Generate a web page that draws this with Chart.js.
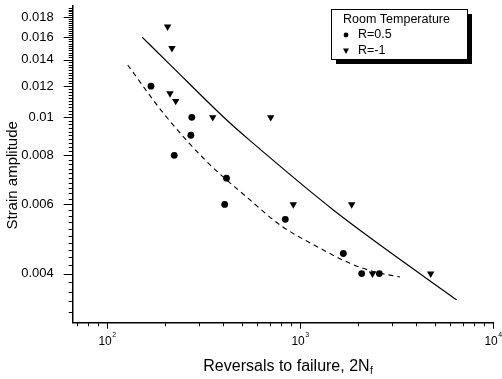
<!DOCTYPE html>
<html>
<head>
<meta charset="utf-8">
<script src="https://cdn.jsdelivr.net/npm/chart.js@4.4.1/dist/chart.umd.min.js"></script>
<style>
  body { margin: 0; background: #fff; }
</style>
</head>
<body>
<canvas id="fatigueChart" width="502" height="379"></canvas>
<script>
// test points, R = 0.5
const r05Reversals = [169, 275, 272, 223, 416, 407, 839, 1677, 2088, 2576];
const r05Strain = [0.012, 0.01, 0.009, 0.008, 0.007, 0.006, 0.0055, 0.0045, 0.004, 0.004];
// test points, R = -1
const rm1Reversals = [206, 217, 212, 227, 353, 705, 923, 1853, 2375, 4755];
const rm1Strain = [0.017, 0.015, 0.0115, 0.011, 0.01, 0.01, 0.006, 0.006, 0.004, 0.004];
// fitted curves
const fitRm1Reversals = [152, 212, 417, 551, 1488, 4622, 6486];
const fitRm1Strain = [0.016, 0.01362, 0.00984, 0.00872, 0.00581, 0.00386, 0.00343];
const fitR05Reversals = [128, 196, 322, 551, 788, 1221, 1816, 2399, 3299];
const fitR05Strain = [0.01359, 0.01024, 0.00779, 0.00616, 0.00532, 0.00469, 0.00425, 0.00405, 0.00392];

// axis ticks
const yMajorValues = [0.004, 0.006, 0.008, 0.01, 0.012, 0.014, 0.016, 0.018];
const yMajorLabels = ['0.004', '0.006', '0.008', '0.01', '0.012', '0.014', '0.016', '0.018'];
const xMajorValues = [100, 1000, 10000];
const xMajorExponents = ['2', '3', '4'];

const FONT = "'Liberation Sans', Arial, sans-serif";

// minor tick positions: every 0.0002 on y, 2..9 per decade on x
const yTickValues = [];
for (let i = 16; i <= 95; i++) yTickValues.push(i / 5000);
const xTickValues = [];
[10, 100, 1000].forEach(d => {
    for (let k = 2; k <= 10; k++) {
        if (k * d >= 66.4 && k * d <= 10000) xTickValues.push(k * d);
    }
});

function toPoints(xs, ys) {
    return xs.map((x, i) => ({ x: x, y: ys[i] }));
}

function isMajor(v, list) {
    return list.some(m => Math.abs(m - v) / m < 1e-6);
}

// tick marks, x tick labels, axis titles and boxed legend
const decorations = {
    id: 'decorations',
    afterDraw(chart) {
        const ctx = chart.ctx;
        const area = chart.chartArea;
        const x = chart.scales.x;
        const y = chart.scales.y;
        ctx.save();
        ctx.strokeStyle = '#000';
        ctx.fillStyle = '#000';
        ctx.lineWidth = 1;

        yTickValues.forEach(v => {
            const py = Math.round(y.getPixelForValue(v)) + 0.5;
            const len = isMajor(v, yMajorValues) ? 9 : 4;
            ctx.beginPath();
            ctx.moveTo(area.left, py);
            ctx.lineTo(area.left - len, py);
            ctx.stroke();
        });
        xTickValues.forEach(v => {
            const px = Math.round(x.getPixelForValue(v)) + 0.5;
            const len = isMajor(v, xMajorValues) ? 6 : 3.5;
            ctx.beginPath();
            ctx.moveTo(px, area.bottom);
            ctx.lineTo(px, area.bottom + len);
            ctx.stroke();
        });

        // x tick labels with superscript exponent
        ctx.textBaseline = 'alphabetic';
        ctx.textAlign = 'left';
        xMajorValues.forEach((v, i) => {
            const px = x.getPixelForValue(v);
            ctx.font = '12px ' + FONT;
            const w1 = ctx.measureText('10').width;
            ctx.font = '7px ' + FONT;
            const w2 = ctx.measureText(xMajorExponents[i]).width;
            const start = px - (w1 + w2) / 2;
            ctx.font = '12px ' + FONT;
            ctx.fillText('10', start, area.bottom + 22.5);
            ctx.font = '7px ' + FONT;
            ctx.fillText(xMajorExponents[i], start + w1 + 0.5, area.bottom + 14.5);
        });

        // x title with subscript
        ctx.font = '16px ' + FONT;
        const main = 'Reversals to failure, 2N';
        const wm = ctx.measureText(main).width;
        ctx.font = '10px ' + FONT;
        const ws = ctx.measureText('f').width;
        const tx = (area.left + area.right) / 2 + 5 - (wm + ws) / 2;
        const ty = area.bottom + 48;
        ctx.font = '16px ' + FONT;
        ctx.fillText(main, tx, ty);
        ctx.font = '10px ' + FONT;
        ctx.fillText('f', tx + wm + 0.5, ty + 3);

        // y title
        ctx.save();
        ctx.translate(12.5, (area.top + area.bottom) / 2 + 11);
        ctx.rotate(-Math.PI / 2);
        ctx.textAlign = 'center';
        ctx.textBaseline = 'middle';
        ctx.font = '15px ' + FONT;
        ctx.fillText('Strain amplitude', 0, 0);
        ctx.restore();

        // legend box with drop shadow
        const bx = area.right - 162;
        const by = area.top + 3;
        const bw = 136;
        const bh = 50;
        ctx.fillStyle = '#000';
        ctx.fillRect(bx + 5, by + 5, bw, bh);
        ctx.fillStyle = '#fff';
        ctx.fillRect(bx, by, bw, bh);
        ctx.strokeStyle = '#000';
        ctx.strokeRect(bx + 0.5, by + 0.5, bw, bh);

        ctx.fillStyle = '#000';
        ctx.textAlign = 'left';
        ctx.textBaseline = 'middle';
        ctx.font = '12.5px ' + FONT;
        ctx.fillText('Room Temperature', bx + 12, by + 11);
        ctx.fillText('R=0.5', bx + 27, by + 26);
        ctx.fillText('R=-1', bx + 27, by + 41.5);

        ctx.beginPath();
        ctx.arc(bx + 15, by + 26, 2.4, 0, Math.PI * 2);
        ctx.fill();
        ctx.beginPath();
        ctx.moveTo(bx + 12, by + 39.5);
        ctx.lineTo(bx + 18, by + 39.5);
        ctx.lineTo(bx + 15, by + 45);
        ctx.closePath();
        ctx.fill();

        ctx.restore();
    }
};

const ctx = document.getElementById('fatigueChart').getContext('2d');
const fatigueChart = new Chart(ctx, {
    type: 'scatter',
    data: {
        datasets: [
            {
                label: 'R=0.5',
                data: toPoints(r05Reversals, r05Strain),
                pointStyle: 'circle',
                pointRadius: 3.4,
                backgroundColor: '#000',
                borderColor: '#000',
                borderWidth: 0
            },
            {
                label: 'R=-1',
                data: toPoints(rm1Reversals, rm1Strain),
                pointStyle: 'triangle',
                rotation: 180,
                pointRadius: 4.3,
                backgroundColor: '#000',
                borderColor: '#000',
                borderWidth: 0
            },
            {
                label: 'fit R=-1',
                data: toPoints(fitRm1Reversals, fitRm1Strain),
                showLine: true,
                pointRadius: 0,
                borderColor: '#000',
                borderWidth: 1.2,
                cubicInterpolationMode: 'monotone'
            },
            {
                label: 'fit R=0.5',
                data: toPoints(fitR05Reversals, fitR05Strain),
                showLine: true,
                pointRadius: 0,
                borderColor: '#000',
                borderWidth: 1.1,
                borderDash: [5, 4],
                cubicInterpolationMode: 'monotone'
            }
        ]
    },
    options: {
        responsive: false,
        animation: false,
        devicePixelRatio: 1,
        layout: { padding: { left: 0, top: 6, right: 9, bottom: 0 } },
        plugins: {
            legend: { display: false },
            tooltip: { enabled: false }
        },
        scales: {
            x: {
                type: 'logarithmic',
                min: 66.4,
                max: 10000,
                grid: { display: false },
                border: { display: true, color: '#000', width: 1.5 },
                ticks: { display: false },
                afterFit: function(scale) {
                    scale.height = 56.3;
                    scale.paddingLeft = 0;
                    scale.paddingRight = 0;
                }
            },
            y: {
                type: 'logarithmic',
                min: 0.003,
                max: 0.0192,
                grid: { display: false },
                border: { display: true, color: '#000', width: 1.5 },
                ticks: {
                    padding: 11,
                    color: '#000',
                    autoSkip: false,
                    font: { family: FONT, size: 13 },
                    callback: function(value) {
                        const i = yMajorValues.findIndex(m => Math.abs(m - value) / m < 1e-6);
                        return i >= 0 ? yMajorLabels[i] : '';
                    }
                },
                afterBuildTicks: function(scale) {
                    scale.ticks = yMajorValues.map(v => ({ value: v }));
                },
                afterFit: function(scale) {
                    scale.width = 72.7;
                    scale.paddingTop = 0;
                    scale.paddingBottom = 0;
                }
            }
        }
    },
    plugins: [decorations]
});
</script>
</body>
</html>
